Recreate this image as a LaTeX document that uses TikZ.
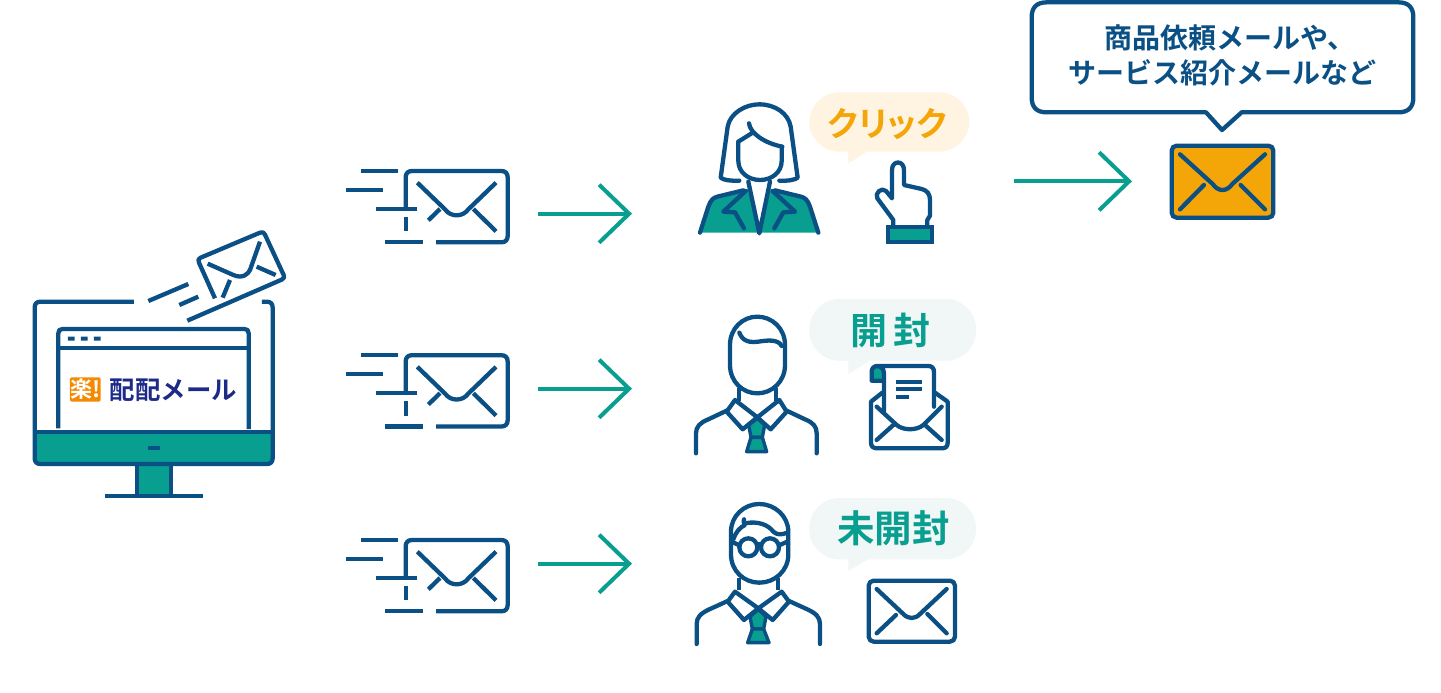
\documentclass[tikz,border=0pt]{standalone}
\usepackage{fontspec}
\usetikzlibrary{arrows.meta}
\newfontfamily\jpb{Noto Sans CJK JP Bold}
\newfontfamily\jpbp[RawFeature=+palt]{Noto Sans CJK JP Bold}
\definecolor{navy}{HTML}{0A5085}
\definecolor{teal1}{HTML}{089E90}
\definecolor{amber}{HTML}{F4A508}
\definecolor{bubo}{HTML}{FFF3E2}
\definecolor{bubt}{HTML}{F1F7F7}
\definecolor{logoor}{HTML}{F58A00}
\definecolor{logobl}{HTML}{1D2A88}
\tikzset{
  ln/.style={draw=navy,line width=4.3pt,line cap=round,line join=round},
  lb/.style={draw=navy,line width=4.3pt,line cap=butt,line join=round},
  tie/.style={draw=navy,line width=3.4pt,line join=round,fill=teal1},
  go/.style={draw=teal1,line width=4pt,-{Straight Barb[length=30pt,width=58pt,line width=4pt]}},
  lbl/.style={inner sep=0pt,outer sep=0pt,align=center},
  zoomed/.style={x=0.33333pt,y=-0.33333pt},
}
\begin{document}
\begin{tikzpicture}[x=1pt,y=-1pt]
\useasboundingbox[fill=white] (0,0) rectangle (1441,693);

% ---------- monitor
\begin{scope}[shift={(20,220)},zoomed]
  \fill[teal1] (46,637) rectangle (756,730);
  \fill[teal1] (352,735) rectangle (452,829);
  \draw[lb] (342,245) -- (62,245) .. controls (50,245) and (44,251) .. (44,263) -- (44,714) .. controls (44,726) and (50,732) .. (62,732) -- (740,732) .. controls (752,732) and (758,726) .. (758,714) -- (758,263) .. controls (758,251) and (752,245) .. (740,245) -- (726,245);
  \draw[lb] (44,637) -- (758,637);
  \draw[lb] (115,625) -- (115,340) .. controls (115,331) and (119,327) .. (128,327) -- (673,327) .. controls (682,327) and (686,331) .. (686,340) -- (686,627);
  \draw[lb] (115,385) -- (686,385);
  \fill[navy] (144,350) rectangle (164,362) (183,350) rectangle (203,362) (222,350) rectangle (242,362);
  \fill[navy] (385,677) rectangle (419,689);
  \draw[lb] (352,735) -- (352,829) (452,735) -- (452,829);
  \draw[lb] (255,829) -- (548,829);
  \fill[logoor,rounded corners=1.5pt] (150,472) rectangle (242,545);
  \node[lbl,text=white] (logomark) at (196,508) {\jpb\fontsize{22}{22}\selectfont 楽!};
  \node[lbl,text=logobl] (logotext) at (460,510) {\jpb\fontsize{25.4}{26}\selectfont 配配メール};
  % flying envelope
  \draw[lb] (585,235) -- (537,128) .. controls (533,120) and (535,116) .. (542,113) -- (720,38) .. controls (728,35) and (732,37) .. (735,44) -- (791,165) .. controls (794,172) and (792,176) .. (785,179) -- (502,302);
  \draw[lb] (563,131) -- (640,165) .. controls (670,178) and (685,160) .. (690,150) -- (720,65);
  \draw[lb] (630,180) -- (608,233);
  \draw[lb] (710,140) -- (767,165);
  \draw[lb] (385,243) -- (505,192);
  \draw[lb] (478,255) -- (535,230);
\end{scope}

% ---------- sending envelopes and arrows
\foreach \i/\ey/\ay in {1/0/0,2/184.2/175,3/369/350}{
  \begin{scope}[shift={(340,160+\ey)},zoomed]
    \draw[lb] (197,147) -- (197,52) .. controls (197,40) and (204,33) .. (216,33) -- (484,33) .. controls (496,33) and (503,40) .. (503,52) -- (503,228) .. controls (503,240) and (496,247) .. (484,247) -- (288,247);
    \draw[lb] (232,68) -- (315,148) .. controls (332,172) and (368,172) .. (385,148) -- (468,68);
    \draw[lb] (265,181) -- (300,147);
    \draw[lb] (400,147) -- (468,214);
    \draw[lb] (62,33) -- (175,33);
    \draw[lb] (18,90) -- (130,90);
    \draw[lb] (107,147) -- (232,147);
    \draw[lb] (197,170) -- (197,214);
    \draw[lb] (135,247) -- (248,247);
  \end{scope}
  \coordinate (as\i) at (538,213.7+\ay);
  \coordinate (ae\i) at (632,213.7+\ay);
  \draw[go] (as\i) -- (ae\i);
}
\coordinate (as4) at (1014,181.3);
\coordinate (ae4) at (1132,181.3);
\draw[go] (as4) -- (ae4);

% ---------- woman + hand
\begin{scope}[shift={(680,85)},zoomed]
  \fill[bubo,rounded corners=30pt] (388,22) rectangle (868,200);
  \fill[bubo] (505,190) -- (505,235) -- (560,200) -- cycle;
  \node[lbl,text=amber] (tclick) at (622,117) {\jpbp\fontsize{34}{34}\selectfont クリック};
  \fill[teal1] (60,443) -- (85,365) .. controls (92,345) and (100,338) .. (112,335) -- (203,312) -- (238,443) -- (272,312) -- (363,335) .. controls (375,338) and (383,345) .. (390,365) -- (415,443) -- cycle;
  \draw[ln] (60,443) -- (85,365) .. controls (92,345) and (100,338) .. (112,335) -- (190,316);
  \draw[ln] (415,443) -- (390,365) .. controls (383,345) and (375,338) .. (363,335) -- (285,316);
  \draw[ln] (205,290) -- (238,445) -- (270,290);
  \draw[ln] (197,318) -- (130,380) -- (165,382) -- (192,430);
  \draw[ln] (278,318) -- (345,380) -- (310,382) -- (283,430);
  \draw[ln] (178,287) .. controls (150,288) and (130,285) .. (122,278) -- (143,125) .. controls (150,85) and (195,58) .. (238,58) .. controls (285,58) and (325,85) .. (332,125) -- (353,278) .. controls (345,285) and (325,288) .. (298,287);
  \draw[ln] (175,170) -- (175,228) .. controls (175,262) and (205,285) .. (240,285) .. controls (275,285) and (305,262) .. (305,228) -- (305,185);
  \draw[ln] (175,170) -- (218,143);
  \draw[ln] (207,115) .. controls (210,145) and (255,175) .. (307,185);
  % hand
  \draw[ln] (640,425) -- (640,405) -- (592,340) .. controls (583,325) and (605,305) .. (618,318) -- (636,340) -- (636,255) .. controls (636,225) and (672,225) .. (672,255) -- (672,300) -- (725,312) .. controls (742,316) and (750,328) .. (750,345) -- (750,392) -- (742,405) -- (742,425);
  \draw[navy,line width=4.3pt,fill=teal1,line join=miter] (623,425) rectangle (755,470);
\end{scope}

% ---------- man 1 + open envelope
\begin{scope}[shift={(680,290)},zoomed]
  \fill[bubt,rounded corners=30pt] (388,27) rectangle (888,212);
  \fill[bubt] (505,205) -- (505,252) -- (570,212) -- cycle;
  \node[lbl,text=teal1] (topen) at (632,120) {\jpb\fontsize{37}{37}\selectfont 開\hspace{6pt}封};
  \draw[ln] (150,165) .. controls (150,115) and (188,80) .. (232,80) .. controls (276,80) and (315,115) .. (315,165) -- (315,225) .. controls (315,275) and (276,310) .. (232,310) .. controls (188,310) and (150,275) .. (150,225) -- cycle;
  \draw[ln] (178,128) .. controls (188,155) and (210,158) .. (235,155) .. controls (265,150) and (295,148) .. (305,168);
  \draw[lb] (176,295) -- (176,332) (288,295) -- (288,332);
  \draw[tie] (232,384) -- (254,405) -- (247,442) -- (213,442) -- (206,405) -- cycle;
  \draw[tie] (213,442) -- (247,442) -- (260,485) -- (200,485) -- cycle;
  \draw[ln] (165,330) -- (232,382) -- (188,418) -- (140,365) -- cycle;
  \draw[ln] (298,330) -- (232,382) -- (272,418) -- (320,365) -- cycle;
  \draw[ln] (140,362) -- (85,388) .. controls (60,398) and (48,410) .. (48,430) -- (48,490);
  \draw[ln] (320,362) -- (375,388) .. controls (400,398) and (410,410) .. (410,430) -- (410,490);
  % open envelope
  \fill[teal1] (577,272) -- (577,245) .. controls (577,225) and (610,225) .. (610,245) -- (610,272) -- cycle;
  \draw[ln] (607,308) -- (573,335) -- (573,458) .. controls (573,470) and (580,475) .. (592,475) -- (785,475) .. controls (797,475) and (803,470) .. (803,458) -- (803,335) -- (765,308);
  \draw[ln] (612,365) -- (612,250) .. controls (612,235) and (600,228) .. (590,228) -- (745,228) .. controls (757,228) and (762,235) .. (762,247) -- (762,350);
  \draw[lb] (612,272) -- (575,272) -- (575,245) .. controls (575,235) and (582,228) .. (592,228);
  \draw[ln] (590,350) -- (650,405) .. controls (670,422) and (710,422) .. (730,405) -- (785,350);
  \draw[ln] (590,450) -- (640,405);
  \draw[ln] (735,405) -- (785,450);
  \draw[lb] (648,275) -- (725,275) (648,298) -- (725,298) (648,322) -- (687,322);
\end{scope}

% ---------- man 2 + envelope
\begin{scope}[shift={(680,490)},zoomed]
  \fill[bubt,rounded corners=30pt] (388,24) rectangle (888,208);
  \fill[bubt] (505,200) -- (505,243) -- (565,208) -- cycle;
  \node[lbl,text=teal1] (tunopen) at (640,115) {\jpb\fontsize{37.5}{38}\selectfont 未開封};
  \draw[ln] (153,125) .. controls (153,78) and (192,42) .. (238,42) .. controls (284,42) and (325,78) .. (325,125) -- (325,193) .. controls (325,243) and (284,278) .. (238,278) .. controls (192,278) and (153,243) .. (153,193) -- cycle;
  \draw[ln] (160,148) .. controls (168,125) and (180,112) .. (195,105) .. controls (190,98) and (190,92) .. (192,88);
  \draw[ln] (195,100) .. controls (235,92) and (265,105) .. (280,125) .. controls (290,135) and (305,135) .. (322,128);
  \draw[ln] (205,172) circle[radius=27];
  \draw[ln] (270,172) circle[radius=27];
  \draw[ln] (232,165) .. controls (236,161) and (240,161) .. (243,165);
  \draw[ln] (155,155) -- (178,166);
  \draw[ln] (297,166) -- (322,155);
  \draw[lb] (178,265) -- (178,300) (293,265) -- (293,300);
  \draw[tie] (235,358) -- (258,380) -- (251,417) -- (217,417) -- (210,380) -- cycle;
  \draw[tie] (217,417) -- (251,417) -- (267,458) -- (203,458) -- cycle;
  \draw[ln] (165,305) -- (235,355) -- (192,390) -- (143,335) -- cycle;
  \draw[ln] (305,305) -- (235,355) -- (278,390) -- (327,335) -- cycle;
  \draw[ln] (143,333) -- (88,358) .. controls (62,370) and (50,382) .. (50,402) -- (50,462);
  \draw[ln] (327,333) -- (382,358) .. controls (408,370) and (420,382) .. (420,402) -- (420,462);
  % closed envelope
  \draw[ln,rounded corners=5pt] (566,272) rectangle (825,455);
  \draw[ln] (590,297) -- (670,372) .. controls (685,388) and (705,388) .. (720,372) -- (800,297);
  \draw[ln] (590,430) -- (648,375);
  \draw[ln] (742,372) -- (800,430);
\end{scope}

% ---------- callout + amber envelope
\begin{scope}[shift={(1010,0)},zoomed]
  \draw[navy,line width=4.3pt,fill=white,line join=round] (110,7) -- (1165,7) .. controls (1195,7) and (1210,22) .. (1210,52) -- (1210,292) .. controls (1210,322) and (1195,337) .. (1165,337) -- (695,337) -- (636,390) -- (588,337) -- (110,337) .. controls (80,337) and (65,322) .. (65,292) -- (65,52) .. controls (65,22) and (80,7) .. (110,7) -- cycle;
  \node[lbl,text=navy,font=\jpb\fontsize{28}{35.5}\selectfont] (tcall) at (636,166) {\hspace*{16pt}商品依頼メールや、\\サービス紹介メールなど};
  \draw[navy,line width=4.3pt,fill=amber,rounded corners=5pt] (485,437) rectangle (790,653);
  \draw[ln] (510,463) -- (608,552) .. controls (625,576) and (650,576) .. (667,552) -- (765,463);
  \draw[ln] (510,628) -- (582,555);
  \draw[ln] (692,555) -- (765,628);
\end{scope}
\end{tikzpicture}
\end{document}
